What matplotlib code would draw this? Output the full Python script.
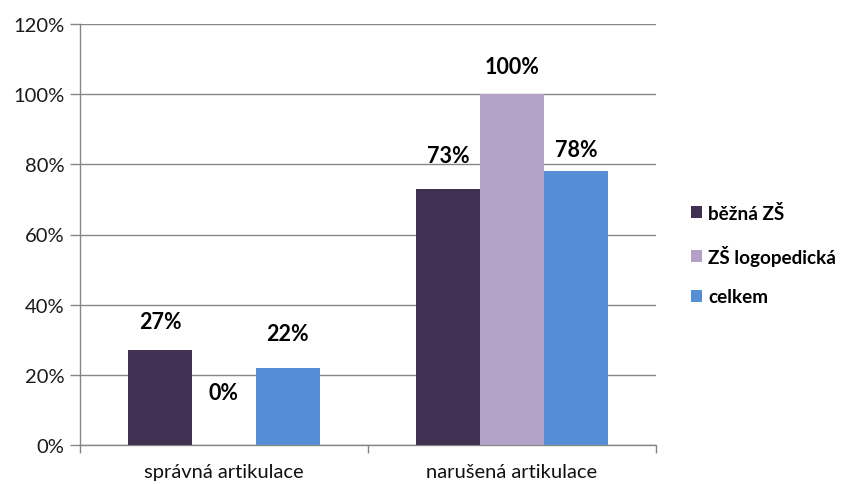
import matplotlib.pyplot as plt
import numpy as np
from matplotlib.ticker import FuncFormatter, FixedLocator

categories = ["správná artikulace", "narušená artikulace"]
series = ["běžná ZŠ", "ZŠ logopedická", "celkem"]
values = {
    "běžná ZŠ": [27, 73],
    "ZŠ logopedická": [0, 100],
    "celkem": [22, 78],
}
colors = ["#403152", "#B3A2C7", "#558ED5"]
# vertical offset of each value label above its bar, in points
label_offsets = {
    "běžná ZŠ": [21, 24],
    "ZŠ logopedická": [38, 20],
    "celkem": [25, 16],
}

plt.rcParams['font.family'] = ['Lato', 'DejaVu Sans']

fig = plt.figure(figsize=(8.42, 4.85), dpi=100)
ax = fig.add_axes([80 / 842, 39 / 485, 576 / 842, 421 / 485])

x = np.arange(len(categories))
width = 0.222
grid_color = "#868686"

for i, name in enumerate(series):
    pos = x + (i - 1) * width
    bars = ax.bar(pos, values[name], width, color=colors[i], label=name, zorder=3)
    for b, v, off in zip(bars, values[name], label_offsets[name]):
        ax.annotate(f"{v}%", (b.get_x() + b.get_width() / 2, v),
                    xytext=(0, off), textcoords="offset points",
                    ha="center", va="center", fontsize=15.5, fontweight="bold",
                    color="black")

ax.set_xlim(-0.5, 1.5)
ax.set_ylim(0, 120)
ax.yaxis.set_major_locator(FixedLocator(range(0, 121, 20)))
ax.yaxis.set_major_formatter(FuncFormatter(lambda v, p: f"{v:.0f}%"))
ax.grid(axis="y", color=grid_color, linewidth=1, zorder=0)

ax.set_xticks(x)
ax.set_xticklabels(categories, fontsize=14.5, color="#111111")
ax.tick_params(axis="x", length=0, pad=13)
ax.set_xticks([-0.5, 0.5, 1.5], minor=True)
ax.tick_params(axis="x", which="minor", length=6, color=grid_color, width=1)
ax.tick_params(axis="y", length=7, color=grid_color, width=1, labelsize=14.5,
               labelcolor="#1a1a1a", pad=4)

for side in ["top", "right"]:
    ax.spines[side].set_visible(False)
for side in ["left", "bottom"]:
    ax.spines[side].set_color(grid_color)
    ax.spines[side].set_linewidth(1)

leg = fig.legend(loc="upper left", bbox_to_anchor=(674 / 842, 1 - 188 / 485),
                 frameon=False, handlelength=0.6, handleheight=0.6,
                 handletextpad=0.3, labelspacing=1.2,
                 prop={"size": 13.6, "weight": "bold"})

fig.savefig("out.png", dpi=100)
